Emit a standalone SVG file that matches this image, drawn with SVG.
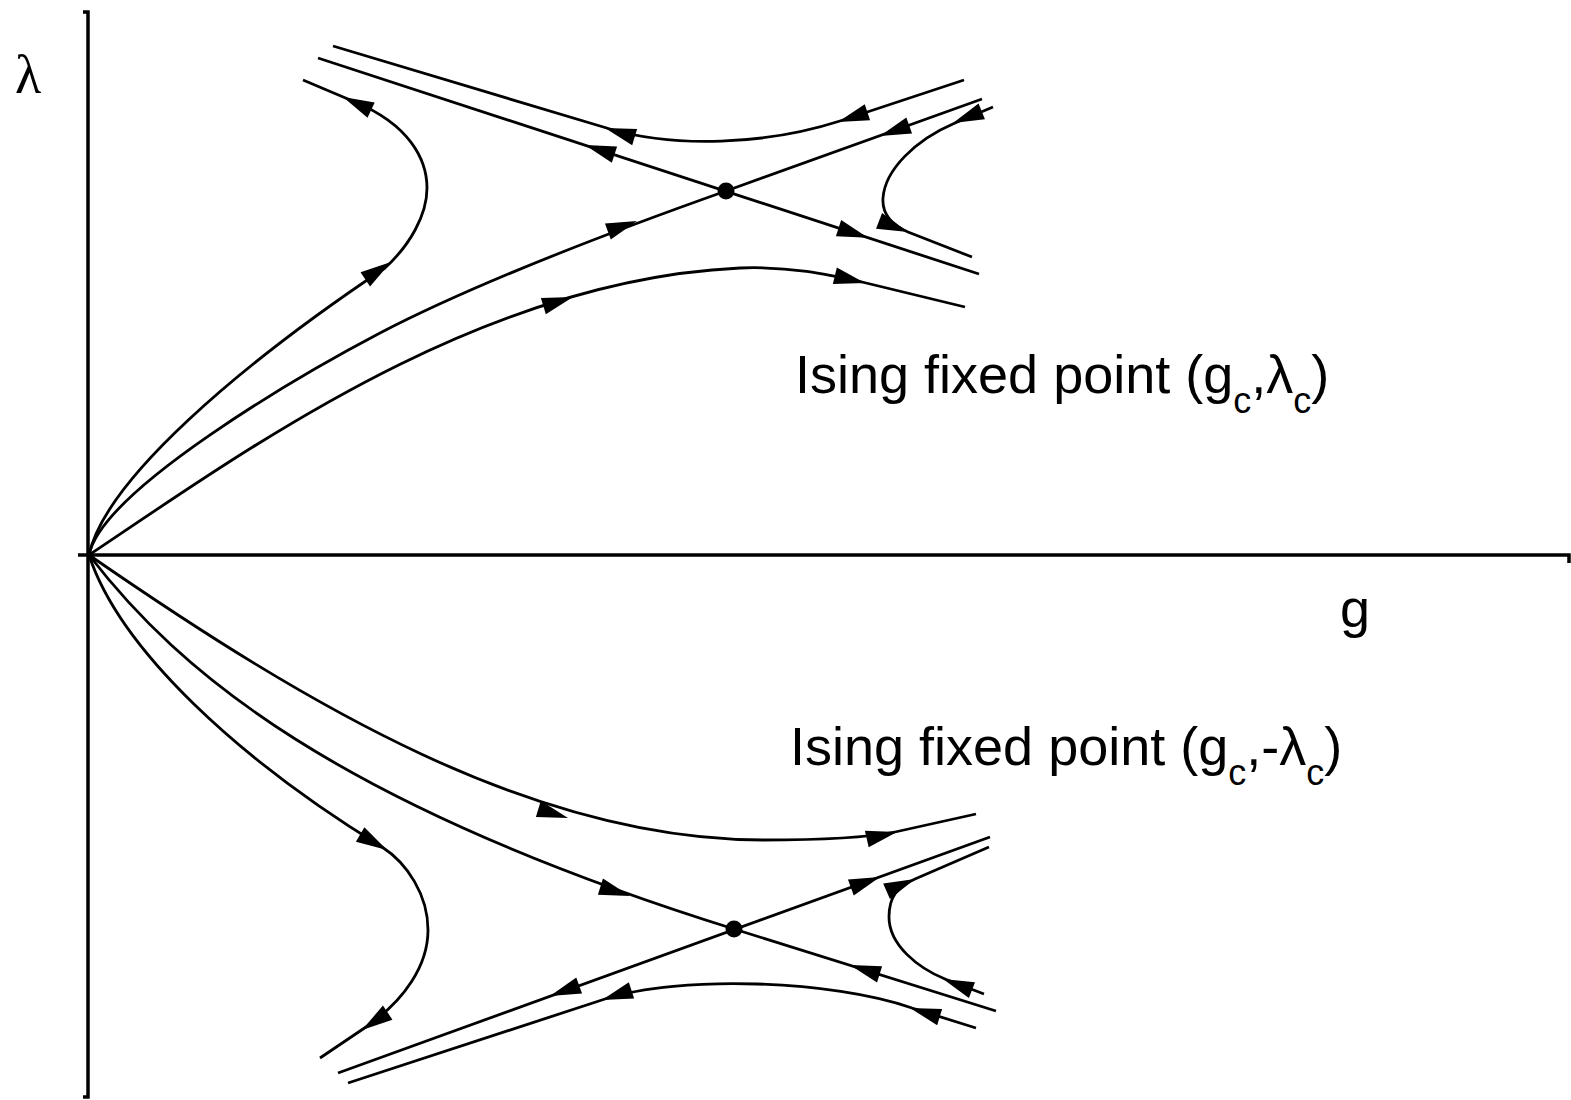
<svg xmlns="http://www.w3.org/2000/svg" width="1571" height="1100" viewBox="0 0 1571 1100">
<style>
.axis{stroke:#000;stroke-width:3.5;fill:none}
.flow{stroke:#000;stroke-width:2.8;fill:none;stroke-linejoin:round}
.ah{fill:#000}
.fp{fill:#000}
.lbl{font-family:"Liberation Sans",Arial,sans-serif;font-size:54px;fill:#000}
.sub{font-size:36px}
.greek{font-family:"Liberation Serif","Times New Roman",serif;font-size:54px;fill:#000}
</style>
<defs>
<path id="ah" class="ah" d="M0,0 L-31,-8.5 L-31,8.5 Z"/>
</defs>
<rect width="1571" height="1100" fill="#fff"/>
<g id="axes">
<path class="axis" d="M83,12 H88 V1097 H83"/>
<path class="axis" d="M78,555 H1569 V563"/>
</g>
<g id="connectors">
<path class="flow" d="M964,80 L840,121 C765,145 675,148 610,129 L333,46"/>
<use href="#ah" transform="translate(838,122) rotate(161.7)"/>
<use href="#ah" transform="translate(605,128) rotate(197)"/>
<path class="flow" d="M318,58 L979,274"/>
<use href="#ah" transform="translate(585,145) rotate(198.1)"/>
<use href="#ah" transform="translate(868,237.7) rotate(18.1)"/>
<path class="flow" d="M89,555 C102,490 300,375 380,333 C480,281 616,230 726,191 L982,99"/>
<use href="#ah" transform="translate(637,221) rotate(-20)"/>
<use href="#ah" transform="translate(880,136) rotate(160.3)"/>
<path class="flow" d="M89,555 C105,480 240,365 385,268 C410,245 427,215 427,188 C427,160 410,125 355,102 L303,80"/>
<use href="#ah" transform="translate(391,262) rotate(-34)"/>
<use href="#ah" transform="translate(343,97) rotate(205)"/>
<path class="flow" d="M89,555 C249,448 480,280 740,268 C790,266 830,275 862,282 L965,307"/>
<use href="#ah" transform="translate(573,297) rotate(-17)"/>
<use href="#ah" transform="translate(865,283) rotate(13.5)"/>
<path class="flow" d="M993,107 L955,123 C915,140 885,170 883,198 C882,212 890,224 908,232 L972,257"/>
<use href="#ah" transform="translate(953,123) rotate(158)"/>
<use href="#ah" transform="translate(908,232) rotate(21)"/>
<path class="flow" d="M89,555 C309,707 533,840 763,840 C820,840 865,838 895,832 L976,814"/>
<use href="#ah" transform="translate(568,818) rotate(17)"/>
<use href="#ah" transform="translate(897,832) rotate(-13)"/>
<path class="flow" d="M89,555 C179,672 334,804 734,929 L996,1011"/>
<use href="#ah" transform="translate(630,896) rotate(17.4)"/>
<use href="#ah" transform="translate(850,965) rotate(197.4)"/>
<path class="flow" d="M338,1073 L990,837"/>
<use href="#ah" transform="translate(880,877) rotate(-19.9)"/>
<use href="#ah" transform="translate(550,996) rotate(160.1)"/>
<path class="flow" d="M89,555 C120,650 240,760 382,847 C407,863 428,895 428,930 C428,965 405,1000 366,1027 L320,1058"/>
<use href="#ah" transform="translate(387,850) rotate(30)"/>
<use href="#ah" transform="translate(362,1030) rotate(146)"/>
<path class="flow" d="M976,1028 L912,1008 C832,980 680,975 605,999 L348,1083"/>
<use href="#ah" transform="translate(910,1008) rotate(197)"/>
<use href="#ah" transform="translate(602,1000) rotate(162)"/>
<path class="flow" d="M984,994 L945,979 C918,968 889,945 889,917 C889,897 897,887 915,879 L989,847"/>
<use href="#ah" transform="translate(943,979) rotate(201)"/>
<use href="#ah" transform="translate(915,879) rotate(-23.4)"/>
</g>
<g id="fp-upper"><circle class="fp" cx="726" cy="191" r="8.5"/></g>
<g id="fp-lower"><circle class="fp" cx="734" cy="929" r="8.5"/></g>
<g id="label-lambda"><text class="greek" x="15" y="93">λ</text></g>
<g id="label-g"><text class="lbl" x="1340" y="627">g</text></g>
<g id="label-upper"><text class="lbl" x="795" y="393">Ising fixed point (g<tspan class="sub" dy="20">c</tspan><tspan dy="-20">,λ</tspan><tspan class="sub" dy="20">c</tspan><tspan dy="-20">)</tspan></text></g>
<g id="label-lower"><text class="lbl" x="790" y="765">Ising fixed point (g<tspan class="sub" dy="20">c</tspan><tspan dy="-20">,-λ</tspan><tspan class="sub" dy="20">c</tspan><tspan dy="-20">)</tspan></text></g>
</svg>
